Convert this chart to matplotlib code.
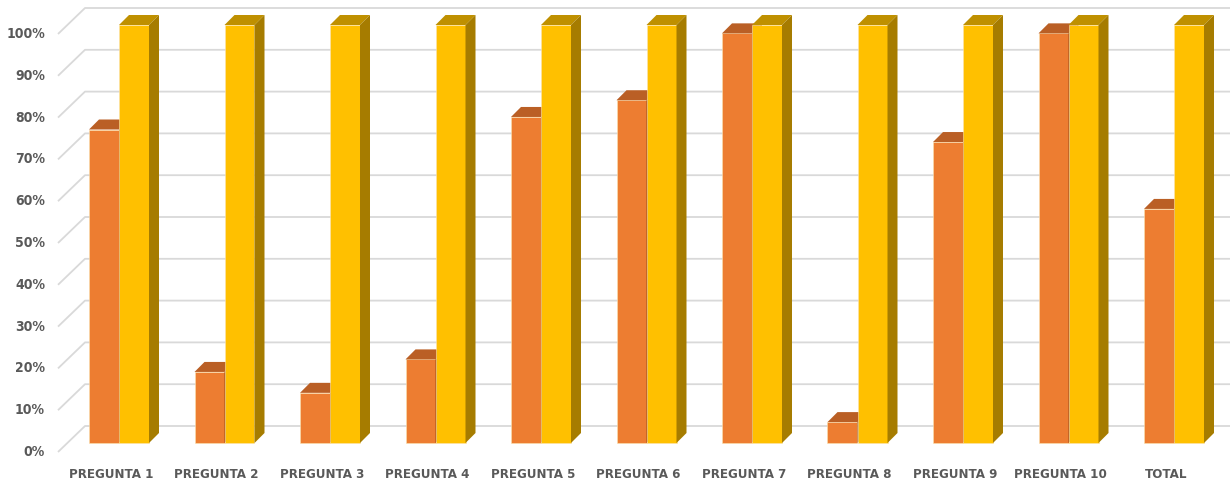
import matplotlib
matplotlib.use("Agg")
import matplotlib.pyplot as plt
from matplotlib.patches import Polygon

categories = ["PREGUNTA 1", "PREGUNTA 2", "PREGUNTA 3", "PREGUNTA 4", "PREGUNTA 5",
              "PREGUNTA 6", "PREGUNTA 7", "PREGUNTA 8", "PREGUNTA 9", "PREGUNTA 10", "TOTAL"]
serie_a = [75, 17, 12, 20, 78, 82, 98, 5, 72, 98, 56]
serie_b = [100, 100, 100, 100, 100, 100, 100, 100, 100, 100, 100]
yticks = [0, 10, 20, 30, 40, 50, 60, 70, 80, 90, 100]

W, H, DPI = 1230, 487, 100
fig = plt.figure(figsize=(W / DPI, H / DPI), dpi=DPI)
ax = fig.add_axes([0, 0, 1, 1])
ax.set_axis_off()

x0_px, x_step = 119.0, 105.5
y0_px, y_scale = 44.0, 4.18
ax.set_xlim(-x0_px / x_step, (W - x0_px) / x_step)
ax.set_ylim(-y0_px / y_scale, (H - y0_px) / y_scale)

def px_x(n):
    return n / x_step

def px_y(n):
    return n / y_scale

def xdata(px):
    return (px - x0_px) / x_step

grid_col = "#d9d9d9"
text_col = "#595959"
font = dict(family=["DejaVu Sans"], fontstretch="condensed", fontweight="bold",
            color=text_col)

for v in yticks:
    yb = v + px_y(17)
    yf = v - px_y(9)
    ax.plot([xdata(58), xdata(85), ax.get_xlim()[1]], [yf, yb, yb],
            color=grid_col, lw=1.3, zorder=0, solid_capstyle="butt")
    ax.text(xdata(45), yf, f"{v}%", ha="right", va="center", fontsize=10, **font)

bw = px_x(30)
dx, dy = px_x(10), px_y(10)
x = list(range(len(categories)))

colors_a = ("#ED7D31", "#BA5F25", "#9C4F1E")
colors_b = ("#FFC000", "#BF9000", "#A67C00")

for series, offs, cols, z in ((serie_a, -bw / 2, colors_a, 2), (serie_b, bw / 2, colors_b, 3)):
    ax.bar([i + offs for i in x], series, width=bw, color=cols[0],
           edgecolor="#fbe3b0", linewidth=0.4, zorder=z)
    for i, v in zip(x, series):
        l = i + offs - bw / 2
        r = i + offs + bw / 2
        top = Polygon([(l, v), (r, v), (r + dx, v + dy), (l + dx, v + dy)],
                      closed=True, facecolor=cols[1], edgecolor="none", zorder=z)
        side = Polygon([(r, 0), (r, v), (r + dx, v + dy), (r + dx, dy)],
                       closed=True, facecolor=cols[2], edgecolor="none", zorder=z)
        ax.add_patch(top)
        ax.add_patch(side)

for i, c in zip(x, categories):
    ax.text(i - px_x(8), px_y(12 - y0_px), c, ha="center", va="center",
            fontsize=9.5, **font)

fig.savefig("out.png", dpi=DPI)
